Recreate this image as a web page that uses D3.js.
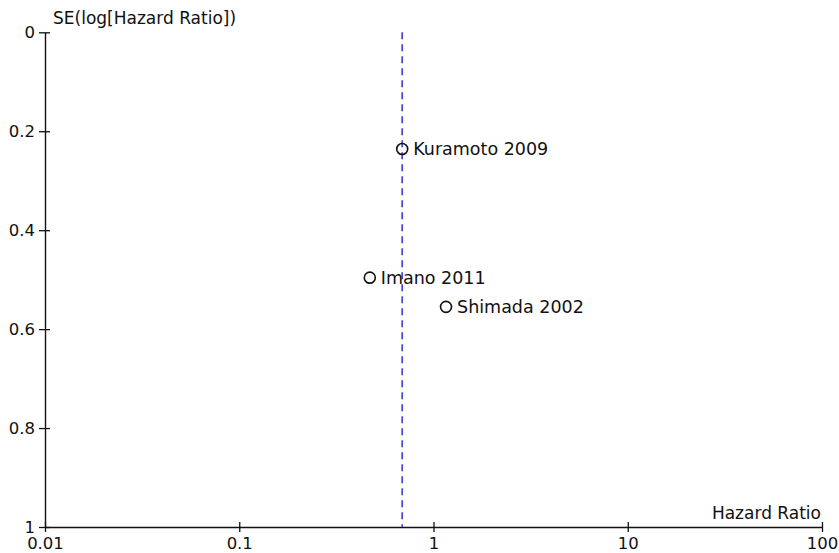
<!DOCTYPE html>
<html>
<head>
<meta charset="utf-8">
<script src="https://cdn.jsdelivr.net/npm/d3@7"></script>
<style>
  html, body { margin: 0; padding: 0; background: #fff; }
  svg { display: block; }
  text { font-family: "DejaVu Sans", Verdana, sans-serif; fill: #111; }
</style>
</head>
<body>
<script>
// ---- data ----
const studies = ["Kuramoto 2009", "Imano 2011", "Shimada 2002"];
const hazardRatios = [0.69, 0.47, 1.16];
const standardErrors = [0.236, 0.496, 0.555];
const pooledHR = 0.69;
const xTicks = [0.01, 0.1, 1, 10, 100];
const xTickLabels = ["0.01", "0.1", "1", "10", "100"];
const yTicks = [0, 0.2, 0.4, 0.6, 0.8, 1];
const yTickLabels = ["0", "0.2", "0.4", "0.6", "0.8", "1"];
const xTitle = "Hazard Ratio";
const yTitle = "SE(log[Hazard Ratio])";

// ---- layout ----
const W = 839, H = 553;
const svg = d3.select("body").append("svg").attr("width", W).attr("height", H);

const x = d3.scaleLog().domain([0.01, 100]).range([45, 822]);
const y = d3.scaleLinear().domain([0, 1]).range([32.3, 527]);

// x axis
const xAxis = d3.axisBottom(x)
  .tickValues(xTicks)
  .tickFormat((d, i) => xTickLabels[i])
  .tickSizeInner(0).tickSizeOuter(0).tickPadding(0);
const gx = svg.append("g").attr("transform", `translate(0,${y(1)})`).call(xAxis);
gx.select(".domain").attr("stroke", "#111").attr("stroke-width", 1.4);
gx.selectAll(".tick text").attr("font-size", 16.5).attr("fill", "#111")
  .attr("font-family", "DejaVu Sans").attr("y", 21.5).attr("dy", "0");
gx.selectAll(".tick").append("line")
  .attr("y1", -5).attr("y2", 5).attr("stroke", "#111").attr("stroke-width", 1.3);

// y axis
const yAxis = d3.axisLeft(y)
  .tickValues(yTicks)
  .tickFormat((d, i) => yTickLabels[i])
  .tickSizeInner(0).tickSizeOuter(0).tickPadding(10);
const gy = svg.append("g").attr("transform", `translate(${x(0.01)},0)`).call(yAxis);
gy.select(".domain").attr("stroke", "#111").attr("stroke-width", 1.4);
gy.selectAll(".tick text").attr("font-size", 16.5).attr("fill", "#111")
  .attr("font-family", "DejaVu Sans");
gy.selectAll(".tick").append("line")
  .attr("x1", -6).attr("x2", 5).attr("stroke", "#111").attr("stroke-width", 1.3);

// axis titles
svg.append("text").attr("x", 53).attr("y", 24)
  .attr("font-size", 17).text(yTitle);
svg.append("text").attr("x", 821).attr("y", 519)
  .attr("text-anchor", "end").attr("font-size", 17).text(xTitle);

// pooled estimate dashed line
svg.append("line")
  .attr("x1", x(pooledHR)).attr("x2", x(pooledHR))
  .attr("y1", y(0)).attr("y2", y(1))
  .attr("stroke", "#4646d2").attr("stroke-width", 1.7)
  .attr("stroke-dasharray", "7,5");

// study points
const pts = svg.append("g").selectAll("g").data(studies).join("g")
  .attr("transform", (d, i) => `translate(${x(hazardRatios[i])},${y(standardErrors[i])})`);
pts.append("circle").attr("r", 5.5)
  .attr("fill", "none").attr("stroke", "#111").attr("stroke-width", 1.6);
pts.append("text").attr("x", 11).attr("dy", "0.36em")
  .attr("font-size", 17.5).text(d => d);
</script>
</body>
</html>
